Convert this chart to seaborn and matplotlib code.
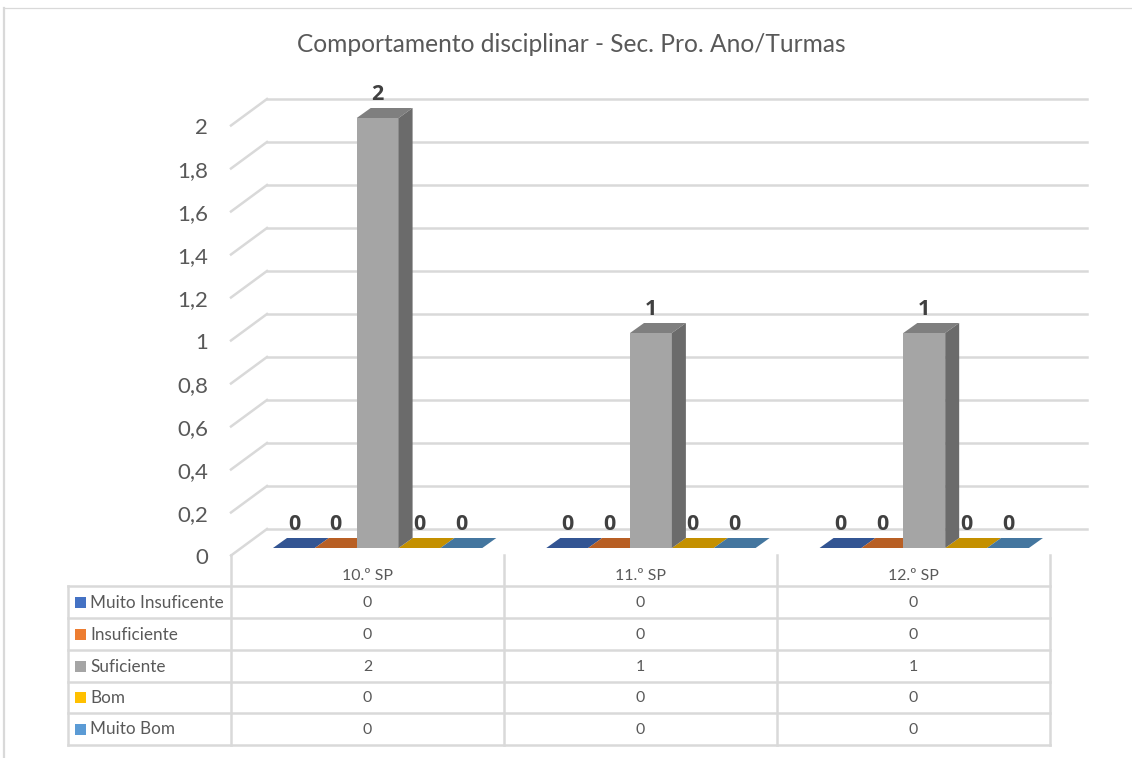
import matplotlib
matplotlib.use("Agg")
import matplotlib.pyplot as plt
import pandas as pd
import seaborn as sns
from matplotlib.patches import Polygon, Rectangle
from matplotlib.transforms import Affine2D, IdentityTransform, blended_transform_factory

title = "Comportamento disciplinar - Sec. Pro. Ano/Turmas"
turmas = ["10.º SP", "11.º SP", "12.º SP"]
niveis = ["Muito Insuficente", "Insuficiente", "Suficiente", "Bom", "Muito Bom"]
muito_insuficiente = [0, 0, 0]
insuficiente = [0, 0, 0]
suficiente = [2, 1, 1]
bom = [0, 0, 0]
muito_bom = [0, 0, 0]
y_ticks = [0, 0.2, 0.4, 0.6, 0.8, 1, 1.2, 1.4, 1.6, 1.8, 2]
cores = ["#4472c4", "#ed7d31", "#a5a5a5", "#ffc000", "#5b9bd5"]
cores_topo = ["#335593", "#b85f24", "#7f7f7f", "#c49000", "#44769f"]

W, H = 1132, 758
GRID = "#d9d9d9"
TXT = "#595959"
FONT = "Lato"
DX, DY = 14, 10  # bar depth in px

plt.rcParams["font.family"] = [FONT, "DejaVu Sans"]

series = [muito_insuficiente, insuficiente, suficiente, bom, muito_bom]
df = pd.DataFrame({"turma": turmas * 5,
                   "nivel": [n for n in niveis for _ in turmas],
                   "valor": sum(series, [])})

fig = plt.figure(figsize=(W / 100, H / 100), dpi=100)
# axes in px: 0 at y=548, 2 at y=118
ax = fig.add_axes([241 / W, (H - 548) / H, 819.9 / W, 430 / H])
sns.barplot(data=df, x="turma", y="valor", hue="nivel", hue_order=niveis, order=turmas,
            palette=cores, saturation=1, width=0.766, gap=0, legend=False, ax=ax, zorder=4)
ax.set_xlim(-0.5, 2.5)
ax.set_ylim(0, 2)
ax.axis("off")

px = IdentityTransform()


def line(x0, y0, x1, y1, lw=1.8):
    fig.add_artist(plt.Line2D([x0, x1], [H - y0, H - y1], color=GRID, lw=lw, transform=px))


# walls, positioned from the y scale
back = blended_transform_factory(px, ax.transData + Affine2D().translate(0, 19))
front = blended_transform_factory(px, ax.transData + Affine2D().translate(0, -7.5))
for v in y_ticks:
    ax.plot([267, 1087], [v, v], color=GRID, lw=1.8, transform=back, clip_on=False, zorder=1)
    yb = back.transform((0, v))[1]
    yf = front.transform((0, v))[1]
    ax.plot([231, 267], [yf, yb], color=GRID, lw=1.8, transform=px, clip_on=False, zorder=1)
    ax.text(208, yf - 2.5, str(v).replace(".", ","), transform=px, ha="right", va="center",
            fontsize=16, color=TXT)

# 3d faces of the bars
for cont, topo in zip(ax.containers, cores_topo):
    for bar in cont:
        x0, y0 = ax.transData.transform((bar.get_x(), 0))
        x1, y1 = ax.transData.transform((bar.get_x() + bar.get_width(), bar.get_height()))
        ax.add_patch(Polygon([(x0, y1), (x1, y1), (x1 + DX, y1 + DY), (x0 + DX, y1 + DY)],
                             closed=True, fc=topo, ec="none", transform=px, clip_on=False,
                             zorder=4 if bar.get_height() > 0 else 2))
        if bar.get_height() > 0:
            ax.add_patch(Polygon([(x1, y0), (x1 + DX, y0 + DY), (x1 + DX, y1 + DY), (x1, y1)],
                                 closed=True, fc="#6b6b6b", ec="none", transform=px,
                                 clip_on=False, zorder=4))
    ax.bar_label(cont, padding=9.5, fontsize=15.5, fontweight="bold", family="Open Sans",
                 color="#404040", zorder=3)

# data table
colunas = [231, 504, 777, 1050]
linhas = [586, 618, 650, 682, 713, 745]
for y in linhas:
    line(68, y, 1050, y)
line(68, 586, 68, 745)
for x in colunas:
    line(x, 555, x, 745)
for i, t in enumerate(turmas):
    fig.text((colunas[i] + colunas[i + 1]) / 2 / W, 1 - 576 / H, t, ha="center", va="center",
             fontsize=11.4, color=TXT)
for r, (nome, cor, valores) in enumerate(zip(niveis, cores, series)):
    yc = (linhas[r] + linhas[r + 1]) / 2
    fig.add_artist(Rectangle((75, H - yc - 5.5), 11, 11, fc=cor, ec="none", transform=px))
    fig.text(90 / W, 1 - (yc + 0.5) / H, nome, ha="left", va="center", fontsize=12.3, color=TXT)
    for i, v in enumerate(valores):
        fig.text((colunas[i] + colunas[i + 1]) / 2 / W, 1 - (yc + 1) / H, str(v),
                 ha="center", va="center", fontsize=11.4, color=TXT)

fig.text(571.5 / W, 1 - 45 / H, title, ha="center", va="center", fontsize=17.65, color=TXT)

# chart area border
line(4, 7.5, 1132, 7.5, lw=0.9)
line(4, 7.5, 4, 758, lw=1.6)

fig.savefig("out.png", dpi=100)
